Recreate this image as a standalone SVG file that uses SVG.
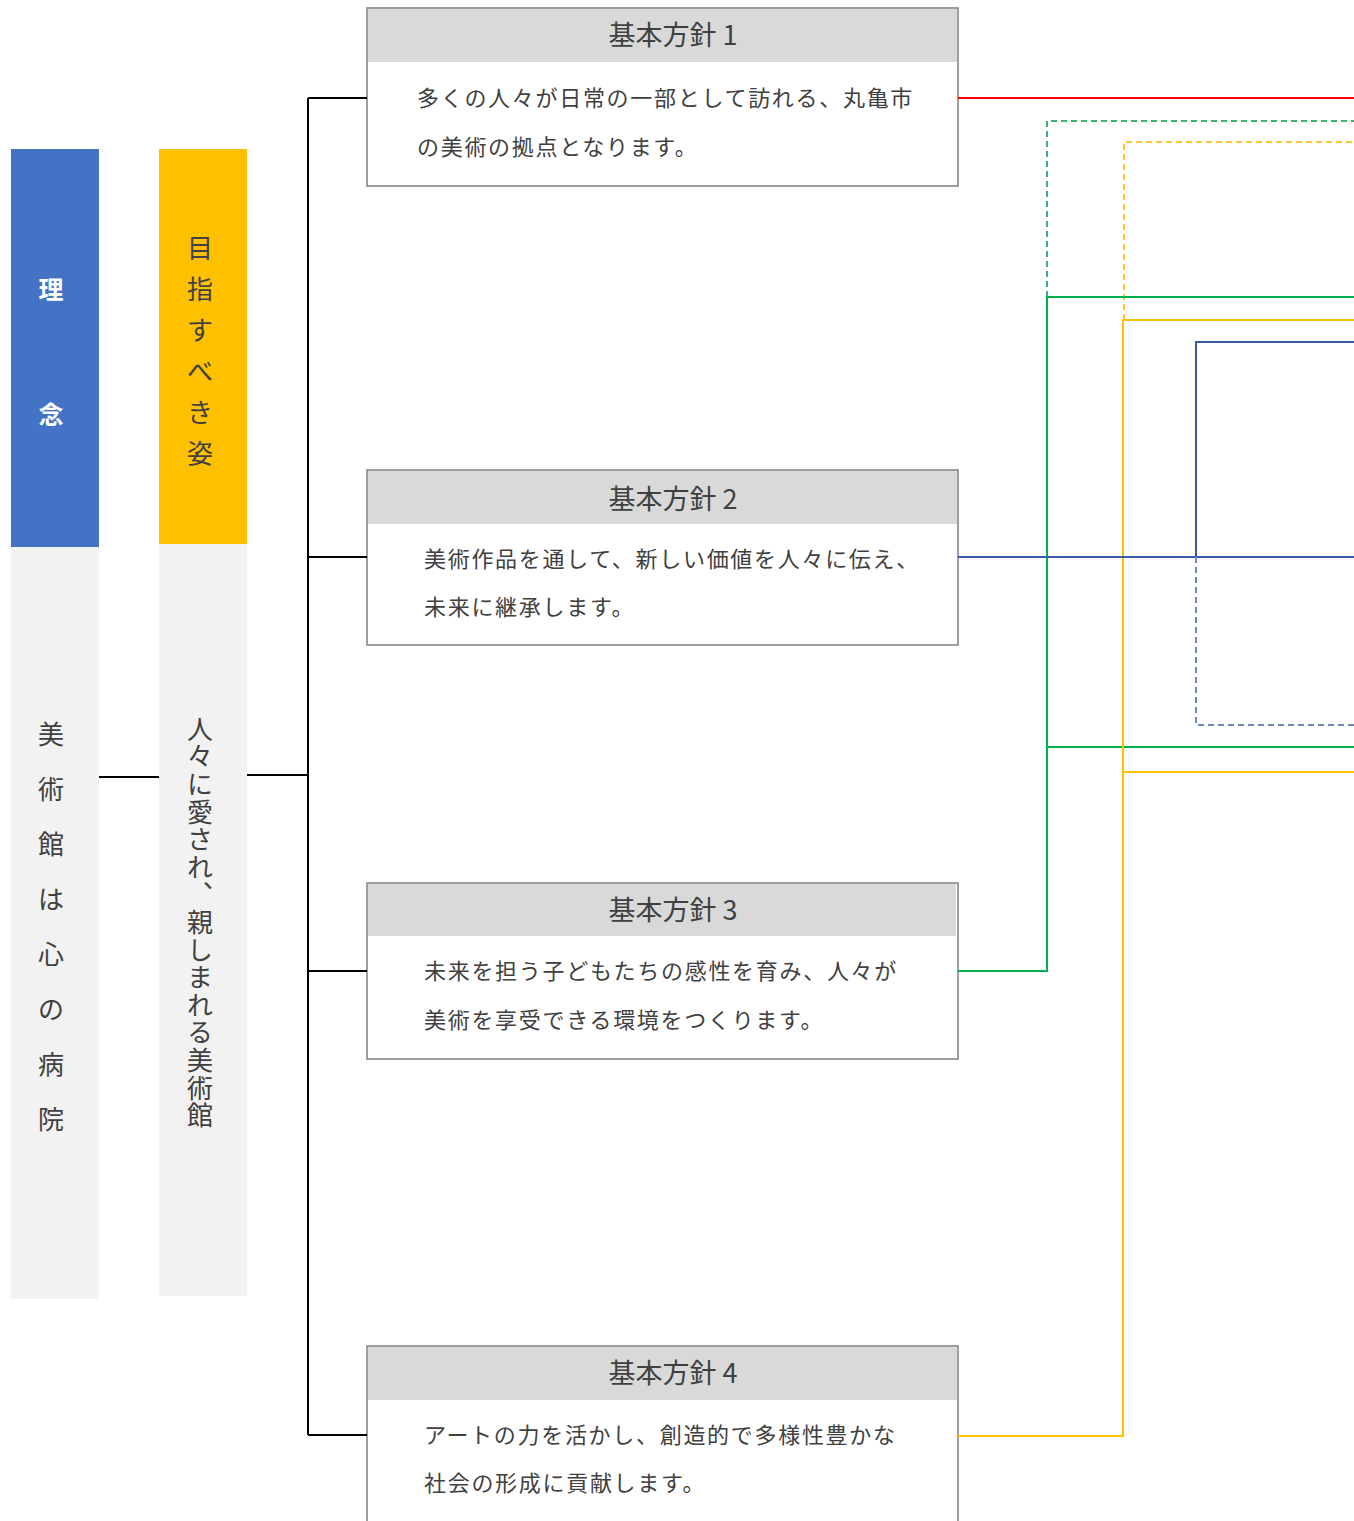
<svg xmlns="http://www.w3.org/2000/svg" width="1354" height="1521" viewBox="0 0 1354 1521">
<style>
.jp{font-family:"Noto Sans CJK JP","Noto Sans",sans-serif;}
.body{font-size:22px;fill:#404040;letter-spacing:1.7px;}
.ttl{font-size:27px;fill:#404040;text-anchor:middle;dominant-baseline:central;}
.vt{font-size:26px;fill:#404040;text-anchor:middle;dominant-baseline:central;}
.box{fill:#ffffff;stroke:#7f7f7f;stroke-width:1.5;}
.hdr{fill:#d9d9d9;}
.k{stroke:#000;stroke-width:2;fill:none;}
.c{fill:none;stroke-width:2;}
.d{stroke-dasharray:6 4;}
</style>
<rect width="1354" height="1521" fill="#ffffff"/>

<g id="rinen">
<rect x="11" y="149" width="88" height="398" fill="#4472c4"/>
<rect x="11" y="547" width="88" height="752" fill="#f2f2f2"/>
<text class="jp vt" x="51" y="288" style="fill:#fff;font-weight:bold;font-size:25px">理</text>
<text class="jp vt" x="51" y="413" style="fill:#fff;font-weight:bold;font-size:25px">念</text>
<text class="jp vt" x="51" y="732">美</text>
<text class="jp vt" x="51" y="787">術</text>
<text class="jp vt" x="51" y="842">館</text>
<text class="jp vt" x="51" y="897">は</text>
<text class="jp vt" x="51" y="952">心</text>
<text class="jp vt" x="51" y="1007">の</text>
<text class="jp vt" x="51" y="1062">病</text>
<text class="jp vt" x="51" y="1117">院</text>
</g>

<g id="mezasu">
<rect x="159" y="149" width="88" height="395" fill="#ffc000"/>
<rect x="159" y="544" width="88" height="752" fill="#f2f2f2"/>
<text class="jp vt" x="200" y="246">目</text>
<text class="jp vt" x="200" y="287">指</text>
<text class="jp vt" x="200" y="328">す</text>
<text class="jp vt" x="200" y="369">べ</text>
<text class="jp vt" x="200" y="410">き</text>
<text class="jp vt" x="200" y="451">姿</text>
<text class="jp" x="200" y="716" style="writing-mode:vertical-rl;font-size:26px;fill:#404040;letter-spacing:1.6px">人々に愛され、親しまれる美術館</text>
</g>

<g id="houshin1">
<rect class="box" x="367" y="8" width="591" height="178"/>
<rect class="hdr" x="368" y="9" width="589" height="53"/>
<text class="jp ttl" x="673" y="33">基本方針 1</text>
<text class="jp body" x="417" y="106">多くの人々が日常の一部として訪れる、丸亀市</text>
<text class="jp body" x="417" y="155">の美術の拠点となります。</text>
</g>

<g id="houshin2">
<rect class="box" x="367" y="470" width="591" height="175"/>
<rect class="hdr" x="368" y="471" width="589" height="53"/>
<text class="jp ttl" x="673" y="497">基本方針 2</text>
<text class="jp body" x="424" y="567">美術作品を通して、新しい価値を人々に伝え、</text>
<text class="jp body" x="424" y="615">未来に継承します。</text>
</g>

<g id="houshin3">
<rect class="box" x="367" y="883" width="591" height="176"/>
<rect class="hdr" x="368" y="884" width="588" height="52"/>
<text class="jp ttl" x="673" y="908">基本方針 3</text>
<text class="jp body" x="424" y="979">未来を担う子どもたちの感性を育み、人々が</text>
<text class="jp body" x="424" y="1028">美術を享受できる環境をつくります。</text>
</g>

<g id="houshin4">
<rect class="box" x="367" y="1346" width="591" height="190"/>
<rect class="hdr" x="368" y="1347" width="589" height="53"/>
<text class="jp ttl" x="673" y="1371">基本方針 4</text>
<text class="jp body" x="424" y="1443">アートの力を活かし、創造的で多様性豊かな</text>
<text class="jp body" x="424" y="1491">社会の形成に貢献します。</text>
</g>

<g id="connectors">
<path class="k" d="M99,777 H159"/>
<path class="k" d="M247,775 H308"/>
<path class="k" d="M308,98 V1435"/>
<path class="k" d="M308,98 H367 M308,557 H367 M308,971 H367 M308,1435 H367"/>
<path class="c" stroke="#ff0000" d="M958,98 H1354"/>
<path class="c d" stroke="#3cb371" d="M1047,297 V121 H1354"/>
<path class="c d" stroke="#ffc830" d="M1124,320 V142 H1354"/>
<path class="c" stroke="#00b050" d="M958,971 H1047 V297 H1354 M1047,747 H1354"/>
<path class="c" stroke="#ffc000" d="M958,1436 H1123 V320 H1354 M1123,772 H1354"/>
<path class="c" stroke="#3a5ca8" d="M958,557 H1354 M1196,557 V342 H1354"/>
<path class="c d" stroke="#6f86b8" d="M1196,557 V725 H1354"/>
</g>
</svg>
